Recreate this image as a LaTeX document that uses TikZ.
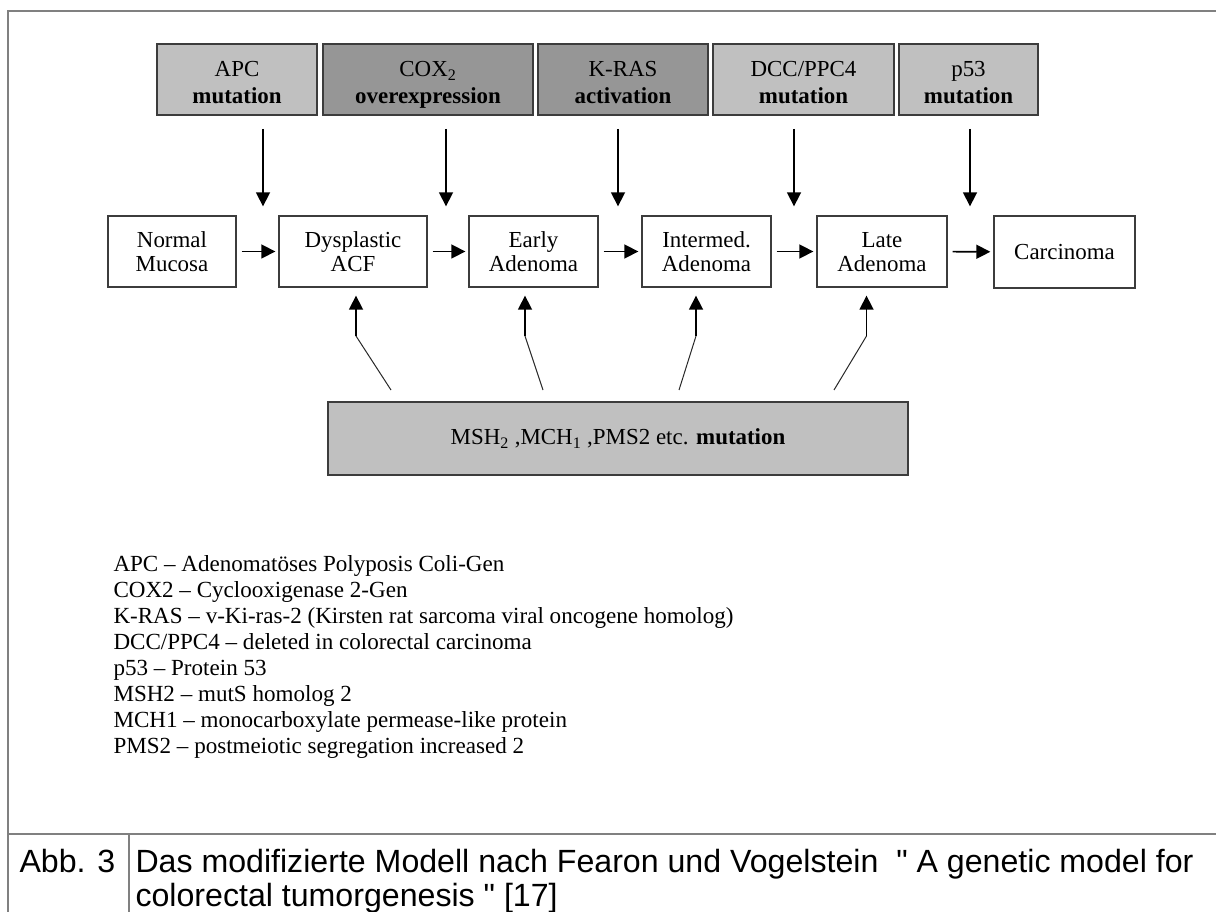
\documentclass[tikz,border=0pt]{standalone}
\usepackage{fontspec}
\setmainfont{Liberation Serif}
\newfontfamily\capfont{Liberation Sans}
\usetikzlibrary{arrows.meta}

\definecolor{lightbox}{RGB}{192,192,192}
\definecolor{darkbox}{RGB}{150,150,150}
\definecolor{boxline}{RGB}{60,60,60}
\definecolor{frameline}{RGB}{128,128,128}

% top and bottom struts for the two-line boxes
\newcommand{\genetop}{\rule{0pt}{20pt}}
\newcommand{\stagetop}{\rule{0pt}{16.1pt}}
\newcommand{\linebot}{\rule[-4pt]{0pt}{0pt}}

\tikzset{every picture/.style={line width=0.75pt}}
\tikzset{
  genebox/.style={draw=boxline, line width=1.1pt, inner sep=0pt, minimum height=53.25pt, align=center, font=\fontsize{17.2}{20.25}\selectfont},
  stagebox/.style={draw=boxline, fill=white, line width=1pt, inner sep=0pt, minimum height=53.25pt, align=center, font=\fontsize{17.2}{18}\selectfont},
  arr/.style={line width=1.2pt, -{Triangle[length=10.5pt,width=10.5pt]}},
  thinline/.style={line width=0.75pt, draw={rgb,255:red,40;green,40;blue,40}},
  keytext/.style={anchor=base west, inner sep=0pt, font=\fontsize{17.3}{19.5}\selectfont},
  captext/.style={anchor=base west, inner sep=0pt, font=\capfont\fontsize{24.1}{26}\selectfont}
}

\begin{document}
\begin{tikzpicture}[x=0.75pt,y=0.75pt,yscale=-1,xscale=1]
	\useasboundingbox (0,0) rectangle (1216,912);

	%Frame
	\draw [frameline, line width=1.5pt] (8,925) -- (8,11) -- (1225,11) ;
	\draw [frameline, line width=1.5pt] (8,834) -- (1225,834) ;
	\draw [frameline, line width=1.5pt] (129,834) -- (129,925) ;

	%Gene boxes
	\node [genebox, fill=lightbox, minimum width=120pt] (apc) at (237,79.5) {\genetop APC\\\textbf{mutation}\linebot};
	\node [genebox, fill=darkbox, minimum width=157.5pt] (cox) at (428,79.5) {\genetop COX\smash{\textsubscript{2}}\\\textbf{overexpression}\linebot};
	\node [genebox, fill=darkbox, minimum width=127.5pt] (kras) at (623,79.5) {\genetop K-RAS\\\textbf{activation}\linebot};
	\node [genebox, fill=lightbox, minimum width=135.75pt] (dcc) at (803.5,79.5) {\genetop DCC/PPC4\\\textbf{mutation}\linebot};
	\node [genebox, fill=lightbox, minimum width=104.25pt] (pfs) at (968.5,79.5) {\genetop p53\\\textbf{mutation}\linebot};

	%Stage boxes
	\node [stagebox, minimum width=96pt] (normal) at (172,251.5) {\stagetop Normal\\Mucosa\linebot};
	\node [stagebox, minimum width=111pt] (dysp) at (353,251.5) {\stagetop Dysplastic\\ACF\linebot};
	\node [stagebox, minimum width=96.75pt] (early) at (533.5,251.5) {\stagetop Early\\Adenoma\linebot};
	\node [stagebox, minimum width=96.75pt] (inter) at (706.5,251.5) {\stagetop Intermed.\\Adenoma\linebot};
	\node [stagebox, minimum width=97.5pt] (late) at (882,251.5) {\stagetop Late\\Adenoma\linebot};
	\node [stagebox, minimum width=105.75pt, minimum height=54pt] (carc) at (1064.5,252) {Carcinoma};

	%Repair box
	\node [genebox, fill=lightbox, line width=1.3pt, minimum width=435pt, minimum height=54.75pt] (msh) at (618,438.5) {MSH\smash{\textsubscript{2}} ,MCH\smash{\textsubscript{1}} ,PMS2 etc. \textbf{mutation}};

	%Stage arrows
	\draw [arr, shorten <=3.75pt, shorten >=2.25pt] (normal) -- (dysp) ;
	\draw [arr, shorten <=3.75pt, shorten >=2.25pt] (dysp) -- (early) ;
	\draw [arr, shorten <=3.75pt, shorten >=2.25pt] (early) -- (inter) ;
	\draw [arr, shorten <=3.75pt, shorten >=2.25pt] (inter) -- (late) ;
	\draw [arr, shorten <=3.75pt, shorten >=2.25pt] (late) -- (carc) ;

	%Down arrows
	\coordinate (d1) at (263,129);
	\coordinate (d2) at (446,129);
	\coordinate (d3) at (618,129);
	\coordinate (d4) at (794,129);
	\coordinate (d5) at (970,129);
	\draw [arr, shorten >=6.75pt] (d1) -- (d1 |- dysp.north) ;
	\draw [arr, shorten >=6.75pt] (d2) -- (d2 |- early.north) ;
	\draw [arr, shorten >=6.75pt] (d3) -- (d3 |- inter.north) ;
	\draw [arr, shorten >=6.75pt] (d4) -- (d4 |- late.north) ;
	\draw [arr, shorten >=6.75pt] (d5) -- (d5 |- carc.north) ;

	%Up arrows
	\coordinate (b1) at (391,390);
	\coordinate (b2) at (543,390);
	\coordinate (b3) at (679,390);
	\coordinate (b4) at (834,390);
	\coordinate (u1) at (356,336);
	\coordinate (u2) at (525,336);
	\coordinate (u3) at (696,336);
	\coordinate (u4) at (866.5,336);
	\draw [thinline] (b1) -- (u1) ;
	\draw [thinline] (b2) -- (u2) ;
	\draw [thinline] (b3) -- (u3) ;
	\draw [thinline] (b4) -- (u4) ;
	\draw [arr, shorten >=6pt] (u1) -- (u1 |- dysp.south) ;
	\draw [arr, shorten >=6pt] (u2) -- (u2 |- early.south) ;
	\draw [arr, shorten >=6pt] (u3) -- (u3 |- inter.south) ;
	\draw [arr, shorten >=6pt] (u4) -- (u4 |- late.south) ;

	% Text Node
	\node [keytext] (k1) at (113,571) {APC – Adenomatöses Polyposis Coli-Gen};
	% Text Node
	\node [keytext] (k2) at (113,597) {COX2 – Cyclooxigenase 2-Gen};
	% Text Node
	\node [keytext] (k3) at (113,623) {K-RAS – v-Ki-ras-2 (Kirsten rat sarcoma viral oncogene homolog)};
	% Text Node
	\node [keytext] (k4) at (113,649) {DCC/PPC4 – deleted in colorectal carcinoma};
	% Text Node
	\node [keytext] (k5) at (113,675) {p53 – Protein 53};
	% Text Node
	\node [keytext] (k6) at (113,701) {MSH2 – mutS homolog 2};
	% Text Node
	\node [keytext] (k7) at (113,727) {MCH1 – monocarboxylate permease-like protein};
	% Text Node
	\node [keytext] (k8) at (113,753) {PMS2 – postmeiotic segregation increased 2};

	% Text Node
	\node [captext] (abb) at (19,872) {Abb. 3};
	% Text Node
	\node [captext] (cap1) at (135,872) {Das modifizierte Modell nach Fearon und Vogelstein\ \ " A genetic model for};
	% Text Node
	\node [captext] (cap2) at (135,906) {colorectal tumorgenesis " [17]};

\end{tikzpicture}
\end{document}
